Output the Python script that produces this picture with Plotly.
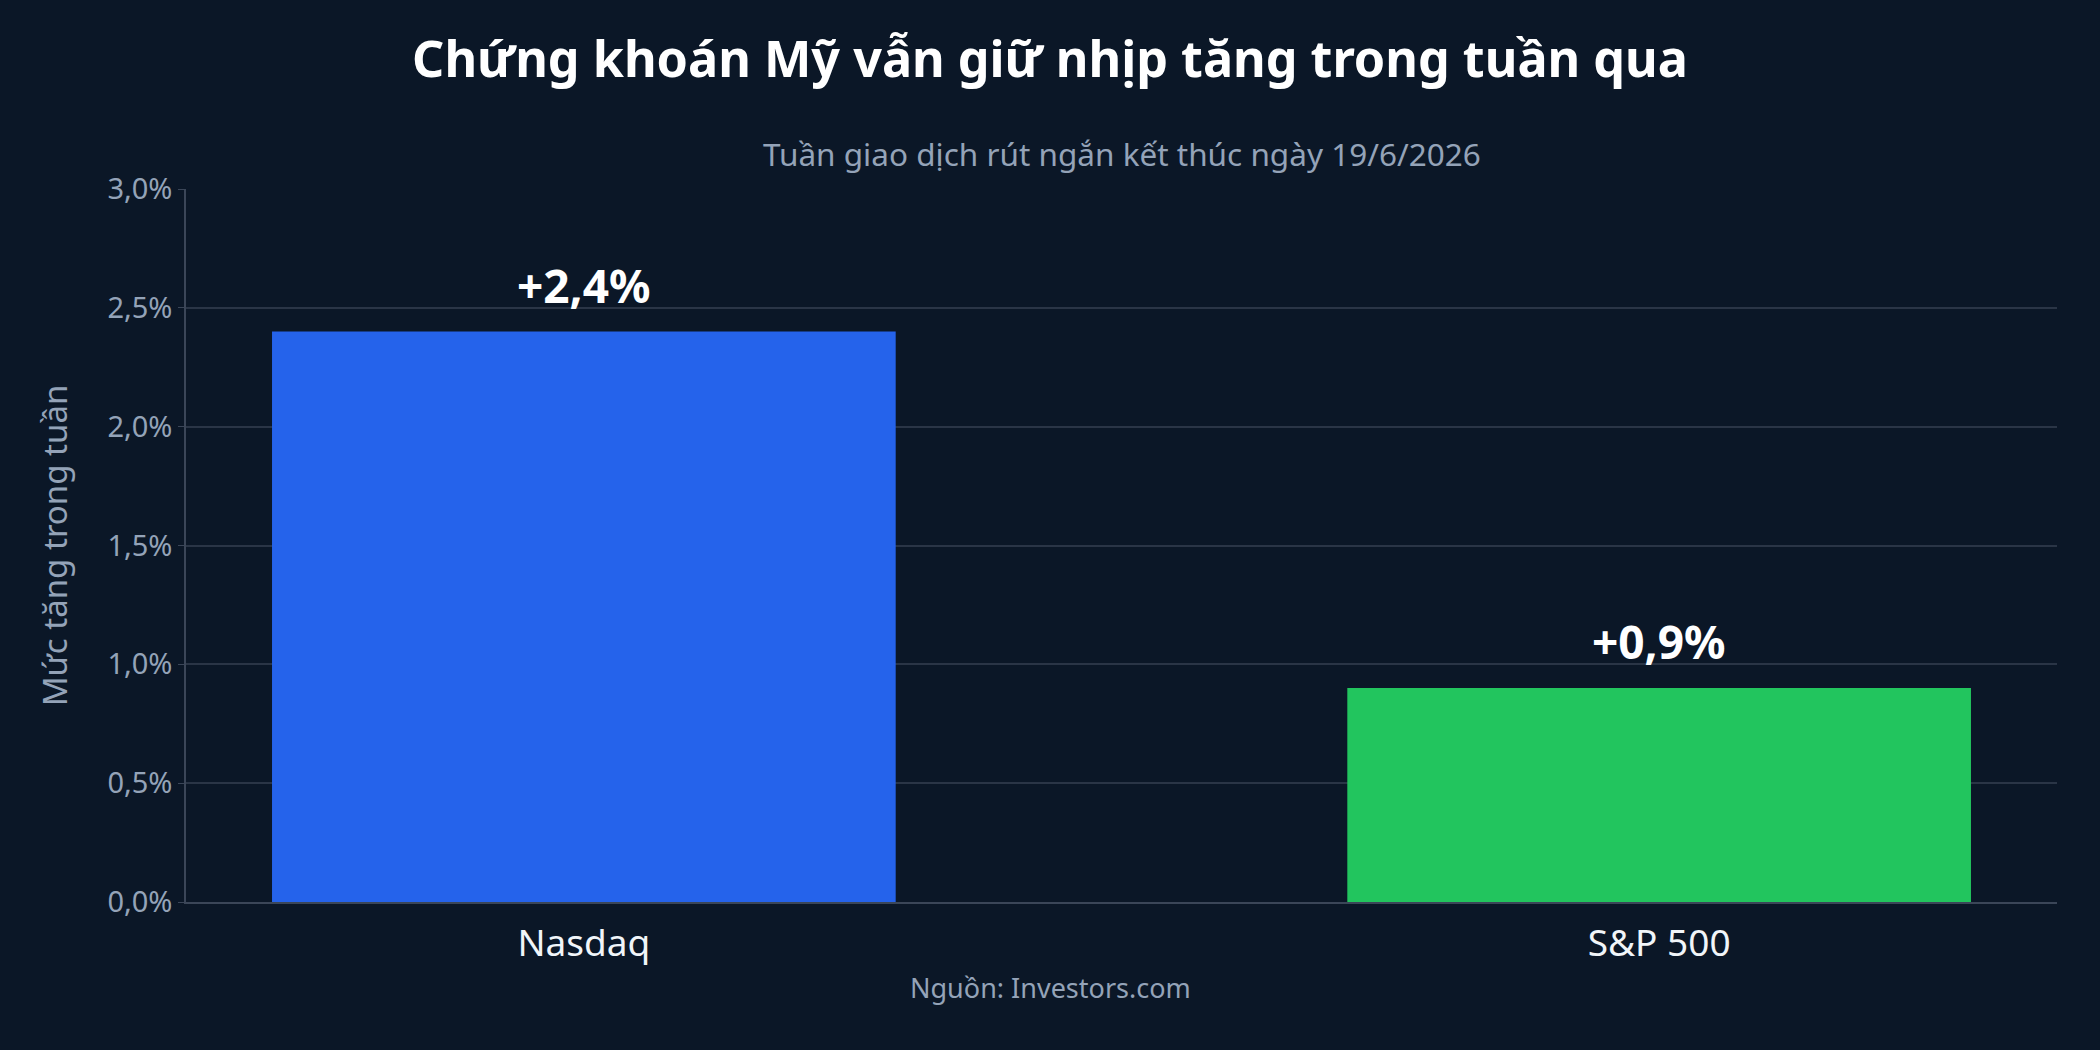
import plotly.graph_objects as go

# data
indices = ["Nasdaq", "S&P 500"]
weekly_gain = [2.4, 0.9]
bar_colors = ["#2563eb", "#22c55e"]

title_text = "Chứng khoán Mỹ vẫn giữ nhịp tăng trong tuần qua"
subtitle_text = "Tuần giao dịch rút ngắn kết thúc ngày 19/6/2026"
source_text = "Nguồn: Investors.com"
y_title = "Mức tăng trong tuần"

BG = "#0b1727"
FONT = "Noto Sans"

fig = go.Figure()
fig.add_trace(go.Bar(
    x=indices, y=weekly_gain,
    marker=dict(color=bar_colors, line=dict(width=0)),
    width=0.58,
    hoverinfo="skip",
))

# value labels above bars
for name, v in zip(indices, weekly_gain):
    fig.add_annotation(
        x=name, y=v, xref="x", yref="y",
        text="+" + f"{v:.1f}".replace(".", ",") + "%",
        showarrow=False, yanchor="bottom", yshift=14,
        font=dict(family=FONT, size=46, color="#ffffff", weight="bold"),
    )

fig.add_annotation(
    x=0.5, y=1, xref="paper", yref="paper", yshift=36,
    text=subtitle_text, showarrow=False, yanchor="middle",
    font=dict(family=FONT, size=31.5, color="#94a3b8"),
)
fig.add_annotation(
    x=(1050 - 186) / 1871, y=0, xref="paper", yref="paper", yshift=-85,
    text=source_text, showarrow=False, yanchor="middle",
    font=dict(family=FONT, size=27, color="#94a3b8"),
)

fig.update_layout(
    width=2100, height=1050,
    paper_bgcolor=BG, plot_bgcolor=BG,
    margin=dict(l=186, r=43, t=189, b=148),
    separators=",.",
    showlegend=False,
    font=dict(family=FONT, color="#94a3b8"),
    title=dict(
        text=title_text, x=0.5, xref="container", xanchor="center",
        y=1 - 59 / 1050, yanchor="middle",
        font=dict(family=FONT, size=50.3, color="#ffffff", weight="bold"),
    ),
)
fig.update_xaxes(
    type="category", range=[-0.37, 1.37],
    showgrid=False, showline=True, linecolor="#3b4658", linewidth=2,
    ticks="", ticklabelstandoff=8,
    tickfont=dict(family=FONT, size=37, color="#f1f5f9"),
    automargin=False,
)
fig.update_yaxes(
    range=[0, 3.0], dtick=0.5, tickformat=".1f", ticksuffix="%",
    showgrid=True, gridcolor="#2a3546", gridwidth=1.5,
    showline=True, linecolor="#3b4658", linewidth=1.5,
    ticks="outside", ticklen=6, tickcolor="#3b4658",
    tickfont=dict(family=FONT, size=29, color="#94a3b8"),
    zeroline=False,
    title=dict(text=y_title, standoff=30,
               font=dict(family=FONT, size=33, color="#94a3b8")),
    automargin=False,
)

fig.write_html(
    "out.html",
    config={"displayModeBar": False},
    post_script="document.body.style.margin='0';document.body.style.background='%s';" % BG,
)
